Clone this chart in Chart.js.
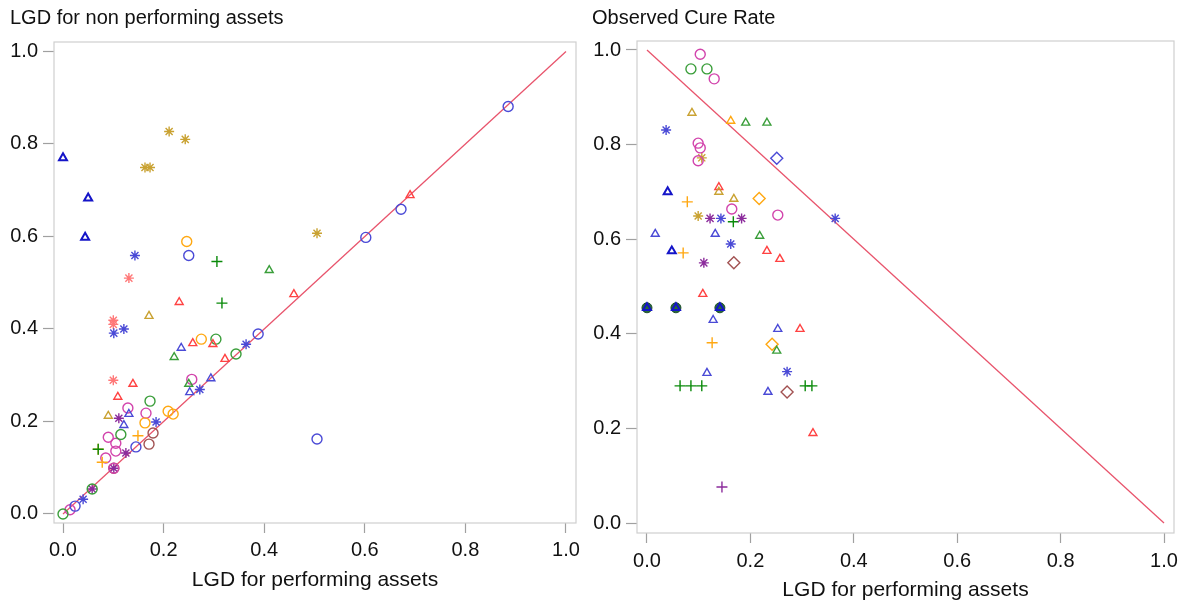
<!DOCTYPE html>
<html>
<head>
<meta charset="utf-8">
<script src="https://cdn.jsdelivr.net/npm/chart.js@4.4.1/dist/chart.umd.min.js"></script>
<style>
  body { margin: 0; background: #fff; }
  .panel { position: absolute; top: 0; height: 606px; }
  #leftBox { left: 0; width: 600px; }
  #rightBox { left: 582px; width: 606px; }
</style>
</head>
<body>
<div class="panel" id="leftBox"><canvas id="leftChart"></canvas></div>
<div class="panel" id="rightBox"><canvas id="rightChart"></canvas></div>
<script>
// tick labels shared by both panels
const tickValues = [0, 0.2, 0.4, 0.6, 0.8, 1.0];

// ---- left panel: LGD non performing vs LGD performing, [x, y]
const leftBlueTri = [[0.131, 0.216], [0.235, 0.359], [0.252, 0.263], [0.294, 0.293], [0.121, 0.192]];
const leftBoldBlueTri = [[0.0, 0.77], [0.05, 0.683], [0.044, 0.598]];
const leftBlueAst = [[0.143, 0.559], [0.101, 0.391], [0.121, 0.40], [0.272, 0.269], [0.185, 0.199], [0.04, 0.032], [0.364, 0.367]];
const leftBlueCircle = [[0.25, 0.559], [0.388, 0.389], [0.505, 0.162], [0.885, 0.881], [0.672, 0.659], [0.602, 0.598], [0.145, 0.145], [0.024, 0.017]];
const leftRedTri = [[0.459, 0.475], [0.69, 0.689], [0.231, 0.458], [0.258, 0.369], [0.298, 0.367], [0.322, 0.335], [0.139, 0.281], [0.109, 0.253]];
const leftRedAst = [[0.131, 0.51], [0.1, 0.419], [0.1, 0.41], [0.1, 0.289]];
const leftGoldAst = [[0.211, 0.827], [0.243, 0.81], [0.163, 0.749], [0.173, 0.749], [0.505, 0.607]];
const leftGoldTri = [[0.171, 0.428], [0.09, 0.212]];
const leftGreenTri = [[0.41, 0.527], [0.221, 0.339], [0.25, 0.281]];
const leftGreenPlus = [[0.306, 0.546], [0.316, 0.456], [0.07, 0.14]];
const leftGreenCircle = [[0.304, 0.378], [0.344, 0.346], [0.173, 0.244], [0.115, 0.172], [0.0, 0.0], [0.058, 0.054]];
const leftOrangeCircle = [[0.246, 0.589], [0.275, 0.378], [0.209, 0.222], [0.219, 0.216], [0.163, 0.197]];
const leftOrangePlus = [[0.149, 0.169], [0.078, 0.112], [0.07, 0.14]];
const leftMagentaCircle = [[0.256, 0.291], [0.129, 0.229], [0.165, 0.218], [0.09, 0.166], [0.105, 0.153], [0.105, 0.136], [0.085, 0.121], [0.101, 0.099], [0.014, 0.009]];
const leftPurpleAst = [[0.111, 0.207], [0.125, 0.132], [0.058, 0.054], [0.101, 0.099]];
const leftBrownCircle = [[0.179, 0.175], [0.171, 0.151], [0.101, 0.099]];
const leftRefLine = [[0, 0], [1, 1]];

// ---- right panel: observed cure rate vs LGD performing, [x, y]
const rightMagentaCircle = [[0.103, 0.991], [0.13, 0.939], [0.099, 0.803], [0.103, 0.793], [0.099, 0.766], [0.164, 0.664], [0.253, 0.651]];
const rightGreenCircle = [[0.085, 0.96], [0.116, 0.96]];
const rightGoldTri = [[0.087, 0.867], [0.168, 0.685], [0.139, 0.70]];
const rightOrangeTri = [[0.162, 0.85]];
const rightGreenTri = [[0.191, 0.846], [0.232, 0.846], [0.218, 0.607], [0.251, 0.364]];
const rightBlueAst = [[0.037, 0.831], [0.143, 0.644], [0.364, 0.644], [0.162, 0.59], [0.271, 0.32]];
const rightGoldAst = [[0.106, 0.772], [0.099, 0.649]];
const rightBlueDiamond = [[0.251, 0.771]];
const rightBoldBlueTri = [[0.04, 0.70], [0.048, 0.575], [0.0, 0.455], [0.056, 0.455], [0.141, 0.455]];
const rightDarkGreenDot = [[0.0, 0.455], [0.056, 0.455], [0.141, 0.455]];
const rightRedTri = [[0.139, 0.71], [0.232, 0.575], [0.257, 0.558], [0.108, 0.484], [0.296, 0.41], [0.321, 0.19]];
const rightOrangePlus = [[0.078, 0.679], [0.07, 0.571], [0.126, 0.381]];
const rightOrangeDiamond = [[0.217, 0.686], [0.242, 0.378]];
const rightPurpleAst = [[0.122, 0.644], [0.183, 0.644], [0.11, 0.55]];
const rightGreenPlus = [[0.167, 0.637], [0.064, 0.29], [0.085, 0.29], [0.106, 0.29], [0.306, 0.29], [0.319, 0.29]];
const rightBlueTri = [[0.016, 0.611], [0.132, 0.611], [0.128, 0.429], [0.253, 0.41], [0.116, 0.317], [0.234, 0.277]];
const rightBrownDiamond = [[0.168, 0.55], [0.271, 0.277]];
const rightPurplePlus = [[0.145, 0.076]];
const rightRefLine = [[0, 1], [1, 0]];

const FONT = '"Liberation Sans", Arial, sans-serif';
const C = {
    blue: '#4a4ad6', boldBlue: '#1414c8', red: '#ff4242', salmon: '#ff7878',
    green: '#3a9e3a', darkGreen: '#0a8a0a', gold: '#c9a232', orange: '#ffa812',
    magenta: '#d244ac', purple: '#8c2c9c', brown: '#a25252', line: '#e8546c'
};

function pts(arr) {
    return arr.map(p => ({ x: p[0], y: p[1] }));
}

function ds(arr, style, color, radius, width, fill) {
    return {
        data: pts(arr),
        pointStyle: style,
        pointRadius: radius,
        pointBorderColor: color,
        pointBackgroundColor: fill || 'rgba(0,0,0,0)',
        pointBorderWidth: width || 1.4,
        showLine: false
    };
}

function refLine(arr) {
    return {
        data: pts(arr),
        showLine: true,
        borderColor: C.line,
        borderWidth: 1.3,
        pointRadius: 0
    };
}

// light gray box round the plot area
const framePlugin = {
    id: 'frame',
    beforeDatasetsDraw(chart) {
        const a = chart.chartArea;
        const ctx = chart.ctx;
        ctx.save();
        ctx.strokeStyle = '#cfcfcf';
        ctx.lineWidth = 1.2;
        ctx.strokeRect(a.left, a.top, a.right - a.left, a.bottom - a.top);
        ctx.restore();
    }
};

function makeScale(min, max, opts) {
    return {
        type: 'linear',
        min: min,
        max: max,
        border: { display: false },
        grid: { drawOnChartArea: false, tickLength: opts.tickLength, tickColor: '#a0a0a0', tickWidth: 1.2 },
        afterBuildTicks: s => { s.ticks = tickValues.map(v => ({ value: v })); },
        ticks: {
            padding: opts.padding,
            color: '#111',
            font: { family: FONT, size: 20, lineHeight: 1.2 },
            callback: v => v.toFixed(1),
            maxRotation: 0
        },
        title: opts.title,
        afterFit: opts.fit
    };
}

function makeChart(id, cfg) {
    return new Chart(document.getElementById(id), {
        type: 'scatter',
        data: { datasets: cfg.datasets },
        options: {
            responsive: true,
            maintainAspectRatio: false,
            animation: false,
            layout: { padding: cfg.padding },
            plugins: {
                legend: { display: false },
                tooltip: { enabled: false },
                title: {
                    display: true,
                    text: cfg.title,
                    align: 'start',
                    color: '#111',
                    font: { family: FONT, size: 20, weight: 'normal', lineHeight: 1.2 },
                    padding: { top: 6, bottom: cfg.titleGap }
                }
            },
            scales: {
                x: makeScale(cfg.xMin, cfg.xMax, {
                    tickLength: 10, padding: cfg.xTickPad,
                    title: {
                        display: true, text: 'LGD for performing assets', color: '#111',
                        font: { family: FONT, size: 21, lineHeight: 1.2 },
                        padding: { top: 0, bottom: cfg.xTitleBottom }
                    },
                    fit: s => { s.height = cfg.xHeight; }
                }),
                y: makeScale(cfg.yMin, cfg.yMax, {
                    tickLength: 11, padding: 5,
                    title: { display: false },
                    fit: s => { s.width = cfg.yWidth; }
                })
            }
        },
        plugins: [framePlugin]
    });
}

makeChart('leftChart', {
    title: 'LGD for non performing assets',
    padding: { left: 10, right: 24, top: 0, bottom: 0 },
    titleGap: 12,
    xMin: -0.0179, xMax: 1.0199, yMin: -0.0195, yMax: 1.0205,
    xHeight: 83, yWidth: 44, xTickPad: 5, xTitleBottom: 13,
    datasets: [
        ds(leftBoldBlueTri, 'triangle', C.boldBlue, 4.6, 2),
        ds(leftBlueTri, 'triangle', C.blue, 4.6),
        ds(leftBlueAst, 'star', C.blue, 5),
        ds(leftBlueCircle, 'circle', C.blue, 5),
        ds(leftRedTri, 'triangle', C.red, 4.6),
        ds(leftRedAst, 'star', C.salmon, 5),
        ds(leftGoldAst, 'star', C.gold, 5),
        ds(leftGoldTri, 'triangle', C.gold, 4.6),
        ds(leftGreenTri, 'triangle', C.green, 4.6),
        ds(leftGreenPlus, 'cross', C.darkGreen, 5.5),
        ds(leftGreenCircle, 'circle', C.green, 5),
        ds(leftOrangeCircle, 'circle', C.orange, 5),
        ds(leftOrangePlus, 'cross', C.orange, 5.5),
        ds(leftMagentaCircle, 'circle', C.magenta, 5),
        ds(leftPurpleAst, 'star', C.purple, 5),
        ds(leftBrownCircle, 'circle', C.brown, 5),
        refLine(leftRefLine)
    ]
});

makeChart('rightChart', {
    title: 'Observed Cure Rate',
    padding: { left: 10, right: 14, top: 0, bottom: 0 },
    titleGap: 11,
    xMin: -0.0193, xMax: 1.0193, yMin: -0.0211, yMax: 1.019,
    xHeight: 73, yWidth: 45, xTickPad: 6, xTitleBottom: 3,
    datasets: [
        ds(rightBoldBlueTri, 'triangle', C.boldBlue, 4.6, 2),
        ds(rightDarkGreenDot, 'circle', '#1d4f2a', 5, 1, '#2a6a3a'),
        ds(rightMagentaCircle, 'circle', C.magenta, 5),
        ds(rightGreenCircle, 'circle', C.green, 5),
        ds(rightGoldTri, 'triangle', C.gold, 4.6),
        ds(rightOrangeTri, 'triangle', C.orange, 4.6),
        ds(rightGreenTri, 'triangle', C.green, 4.6),
        ds(rightBlueAst, 'star', C.blue, 5),
        ds(rightGoldAst, 'star', C.gold, 5),
        ds(rightBlueDiamond, 'rectRot', C.blue, 6),
        ds(rightRedTri, 'triangle', C.red, 4.6),
        ds(rightOrangePlus, 'cross', C.orange, 5.5),
        ds(rightOrangeDiamond, 'rectRot', C.orange, 6),
        ds(rightPurpleAst, 'star', C.purple, 5),
        ds(rightGreenPlus, 'cross', C.darkGreen, 5.5),
        ds(rightBlueTri, 'triangle', C.blue, 4.6),
        ds(rightBrownDiamond, 'rectRot', C.brown, 6),
        ds(rightPurplePlus, 'cross', C.purple, 5.5),
        refLine(rightRefLine)
    ]
});
</script>
</body>
</html>
